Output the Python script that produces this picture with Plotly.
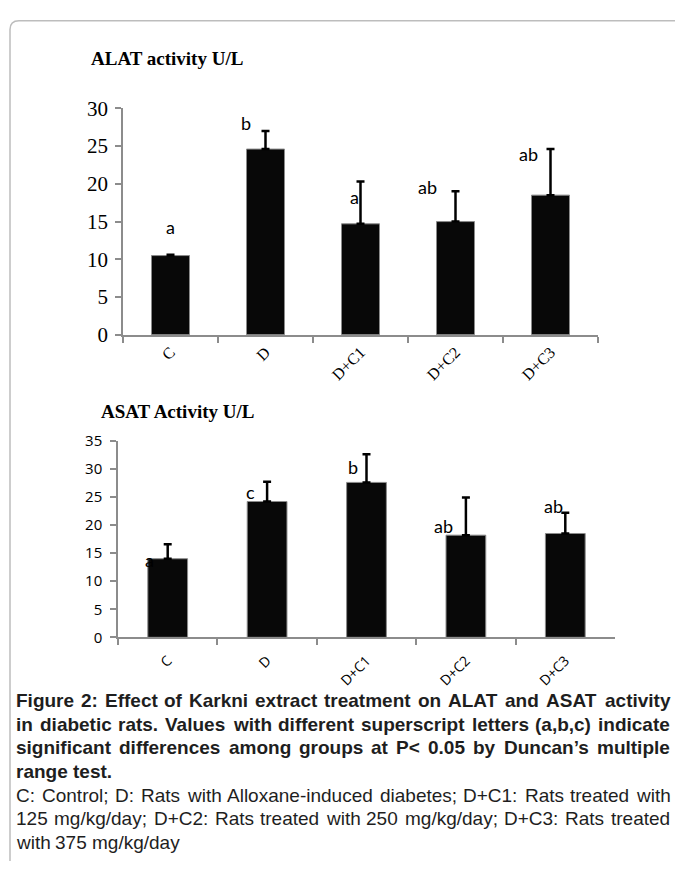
import plotly.graph_objects as go

W, H = 675, 873

categories = ["C", "D", "D+C1", "D+C2", "D+C3"]

alat_values = [10.5, 24.6, 14.7, 15.0, 18.5]
alat_errors = [0.1, 2.4, 5.6, 4.0, 6.1]
alat_letters = ["a", "b", "a", "ab", "ab"]

asat_values = [14.0, 24.2, 27.6, 18.2, 18.5]
asat_errors = [2.6, 3.5, 5.0, 6.7, 3.7]
asat_letters = ["a", "c", "b", "ab", "ab"]

alat_ticks = [0, 5, 10, 15, 20, 25, 30]
asat_ticks = [0, 5, 10, 15, 20, 25, 30, 35]

caption_bold = [
    "Figure 2: Effect of Karkni extract treatment on ALAT and ASAT activity",
    "in diabetic rats. Values with different superscript letters (a,b,c) indicate",
    "significant differences among groups at P< 0.05 by Duncan\u2019s multiple",
    "range test.",
]
caption_regular = [
    "C: Control; D: Rats with Alloxane-induced diabetes; D+C1: Rats treated with",
    "125 mg/kg/day; D+C2: Rats treated with 250 mg/kg/day; D+C3: Rats treated",
    "with 375 mg/kg/day",
]

# letter offsets (pixels) relative to top of the error bar
alat_letter_shift = [(0, 28), (-20, 8), (-6, -15), (-28, 4), (-22, -5)]
asat_letter_shift = [(-18, -16), (-17, -10), (-14, -13), (-22, -28), (-12, 7)]

# approximate Arial / Liberation Sans advance widths (per 1000 em) for justification
REG = dict(zip(" abcdefghijklmnopqrstuvwxyz",
               [278, 556, 556, 500, 556, 556, 278, 556, 556, 222, 222, 500, 222, 833,
                556, 556, 556, 556, 333, 500, 278, 556, 500, 722, 500, 500, 500]))
REG.update(dict(zip("ABCDEFGHIJKLMNOPQRSTUVWXYZ",
                    [667, 667, 722, 722, 667, 611, 778, 722, 278, 500, 667, 556, 833,
                     722, 778, 667, 778, 722, 667, 611, 722, 667, 944, 667, 667, 611])))
REG.update({":": 278, ";": 278, ",": 278, ".": 278, "-": 333, "+": 584, "/": 278,
            "(": 333, ")": 333, "<": 584, "\u2019": 222})
REG.update({d: 556 for d in "0123456789"})
BOLD = dict(zip(" abcdefghijklmnopqrstuvwxyz",
                [278, 556, 611, 556, 611, 556, 333, 611, 611, 278, 278, 556, 278, 889,
                 611, 611, 611, 611, 389, 556, 333, 611, 556, 778, 556, 556, 500]))
BOLD.update(dict(zip("ABCDEFGHIJKLMNOPQRSTUVWXYZ",
                     [722, 722, 722, 722, 667, 611, 778, 722, 278, 556, 722, 611, 833,
                      722, 778, 667, 778, 722, 667, 611, 722, 667, 944, 667, 667, 611])))
BOLD.update({":": 333, ";": 333, ",": 278, ".": 278, "-": 333, "+": 584, "/": 278,
             "(": 333, ")": 333, "<": 584, "\u2019": 278})
BOLD.update({d: 556 for d in "0123456789"})


def px(x):
    return x / W


def py(y):
    return 1 - y / H


fig = go.Figure()

bar_style = dict(color="#080808", line=dict(color="#8a8a8a", width=1))
fig.add_trace(go.Bar(
    x=categories, y=alat_values, xaxis="x", yaxis="y",
    width=0.4, marker=bar_style,
    error_y=dict(type="data", array=alat_errors, arrayminus=[0] * 5,
                 symmetric=False, color="black", thickness=2.5, width=4),
    showlegend=False, hoverinfo="x+y",
))
fig.add_trace(go.Bar(
    x=categories, y=asat_values, xaxis="x2", yaxis="y2",
    width=0.4, marker=bar_style,
    error_y=dict(type="data", array=asat_errors, arrayminus=[0] * 5,
                 symmetric=False, color="black", thickness=2.5, width=4),
    showlegend=False, hoverinfo="x+y",
))

axis_common = dict(showline=True, linecolor="#8c8c8c", linewidth=1.5,
                   ticks="outside", tickcolor="#8c8c8c", ticklen=6,
                   tickwidth=1.5, showgrid=False, zeroline=False)

fig.update_layout(
    width=W, height=H,
    margin=dict(l=0, r=0, t=0, b=0),
    paper_bgcolor="white", plot_bgcolor="white",
    xaxis=dict(domain=[px(123), px(598)], anchor="y", type="category",
               range=[-0.5, 4.5], tickson="boundaries", tickangle=-45,
               tickfont=dict(family="Liberation Serif", size=16, color="black"),
               **axis_common),
    yaxis=dict(domain=[py(332), py(99)], anchor="x", range=[0, 30],
               tickvals=alat_ticks, ticklabelstandoff=3,
               tickfont=dict(family="Liberation Serif", size=21, color="black"),
               **axis_common),
    xaxis2=dict(domain=[px(118), px(615)], anchor="y2", type="category",
                range=[-0.5, 4.5], tickson="boundaries", tickangle=-45,
                ticklabelstandoff=8,
                tickfont=dict(family="Open Sans", size=14, color="black"),
                **axis_common),
    yaxis2=dict(domain=[py(643), py(441)], anchor="x2", range=[0, 35],
                tickvals=asat_ticks, ticklabelstandoff=5,
                tickfont=dict(family="Open Sans", size=15, color="black"),
                **axis_common),
)

annotations = []
for i, c in enumerate(categories):
    dx, dy = alat_letter_shift[i]
    annotations.append(dict(x=c, y=alat_values[i] + alat_errors[i], xref="x", yref="y",
                            text=alat_letters[i], showarrow=False, xshift=dx, yshift=dy,
                            font=dict(family="Lato", size=18, color="black")))
    dx, dy = asat_letter_shift[i]
    annotations.append(dict(x=c, y=asat_values[i] + asat_errors[i], xref="x2", yref="y2",
                            text=asat_letters[i], showarrow=False, xshift=dx, yshift=dy,
                            font=dict(family="Lato", size=18, color="black")))

annotations.append(dict(x=px(89), y=py(48), xref="paper", yref="paper",
                        text="<b>ALAT activity U/L</b>", showarrow=False,
                        xanchor="left", yanchor="middle",
                        font=dict(family="Liberation Serif", size=19, color="black")))
annotations.append(dict(x=px(99), y=py(411), xref="paper", yref="paper",
                        text="<b>ASAT Activity U/L</b>", showarrow=False,
                        xanchor="left", yanchor="middle",
                        font=dict(family="Liberation Serif", size=19, color="black")))

# justified caption, word by word
FS = 19
LEFT, RIGHT = 16, 670
y0, dy_line = 708, 24.3
lines = [(l, True, i < len(caption_bold) - 1) for i, l in enumerate(caption_bold)] + \
        [(l, False, i < len(caption_regular) - 1) for i, l in enumerate(caption_regular)]
for j, (line, bold, justify) in enumerate(lines):
    table = BOLD if bold else REG
    words = line.split(" ")
    widths = [sum(table.get(ch, 556) for ch in w) * FS / 1000 for w in words]
    if justify and len(words) > 1:
        gap = (RIGHT - LEFT - sum(widths)) / (len(words) - 1)
    else:
        gap = table[" "] * FS / 1000
    xpos = LEFT
    for w, wd in zip(words, widths):
        annotations.append(dict(x=px(xpos), y=py(y0 + dy_line * j), xref="paper", yref="paper",
                                text=("<b>" + w + "</b>") if bold else w, showarrow=False,
                                xanchor="left", yanchor="middle", borderpad=0, borderwidth=0,
                                font=dict(family="Liberation Sans", size=FS, color="#1e1e1e")))
        xpos += wd + gap

fig.update_layout(annotations=annotations)

# rounded border around the figure panel
fig.add_shape(type="path", xref="paper", yref="paper",
              path=f"M {px(10)},{py(873)} L {px(10)},{py(18)} Q {px(10)},{py(9)} {px(19)},{py(9)} L {px(675)},{py(9)}",
              line=dict(color="#bdbdbd", width=1.5))

fig.write_html(
    "out.html",
    config={"displayModeBar": False},
    post_script=(
        "document.documentElement.style.margin='0';"
        "document.body.style.margin='0';"
        "document.body.style.overflow='hidden';"
        "var gd=document.getElementById('{plot_id}');"
        "gd.style.position='fixed';gd.style.top='0px';gd.style.left='0px';"
    ),
)
